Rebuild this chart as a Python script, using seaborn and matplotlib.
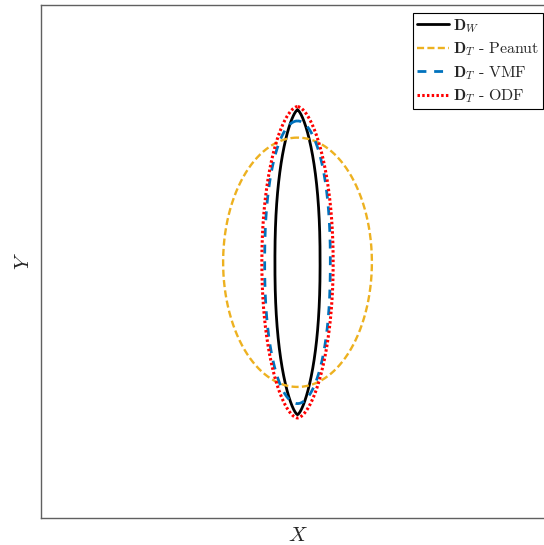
import numpy as np
import pandas as pd
import matplotlib
matplotlib.use("Agg")
import matplotlib.pyplot as plt
import seaborn as sns

sns.set_style("white")
plt.rcParams["mathtext.fontset"] = "cm"
plt.rcParams["font.family"] = ["serif"]

# Glyph outlines: half-width, half-height and the two superellipse exponents
labels = [r"$\mathbf{D}_W$",
          r"$\mathbf{D}_T\ \text{-}\ \mathrm{Peanut}$",
          r"$\mathbf{D}_T\ \text{-}\ \mathrm{VMF}$",
          r"$\mathbf{D}_T\ \text{-}\ \mathrm{ODF}$"]
half_width = [0.088, 0.290, 0.128, 0.139]
half_height = [0.594, 0.486, 0.551, 0.607]
exp_x = [1.45, 2.0, 2.0, 1.7]
exp_y = [2.3, 2.0, 2.25, 2.05]
center_y = -0.003

colors = ["#000000", "#EDB120", "#0072BD", "#FF0000"]
widths = [2.0, 1.7, 2.0, 2.2]
styles = ["-", (0, (3.0, 1.4)), (0, (3.2, 2.8)), (0, (0.8, 0.75))]

t = np.linspace(np.pi / 2, np.pi / 2 + 2 * np.pi, 1441)
frames = []
for lab, a, b, p, q in zip(labels, half_width, half_height, exp_x, exp_y):
    c, s = np.cos(t), np.sin(t)
    x = a * np.sign(c) * np.abs(c) ** (2.0 / p)
    y = center_y + b * np.sign(s) * np.abs(s) ** (2.0 / q)
    frames.append(pd.DataFrame({"x": x, "y": y, "glyph": lab}))
df = pd.concat(frames, ignore_index=True)

fig = plt.figure(figsize=(5.44, 5.45), dpi=100)
ax = fig.add_axes([41 / 544, 27 / 545, 513 / 544, 513 / 545])

for lab, col, lw, ls in zip(labels, colors, widths, styles):
    sub = df[df["glyph"] == lab]
    sns.lineplot(data=sub, x="x", y="y", sort=False, estimator=None,
                 color=col, linewidth=lw, linestyle=ls, label=lab, ax=ax)

ax.set_xlim(-1, 1)
ax.set_ylim(-1, 1)
ax.set_xticks([])
ax.set_yticks([])
ax.set_xlabel(r"$X$", fontsize=15, labelpad=6)
ax.set_ylabel(r"$Y$", fontsize=15, labelpad=6)
for sp in ax.spines.values():
    sp.set_color("#606060")
    sp.set_linewidth(1.0)

leg = ax.legend(loc="upper right", bbox_to_anchor=(543 / 544, 532 / 545),
                bbox_transform=fig.transFigure, borderaxespad=0,
                fontsize=11.5, handlelength=2.0, handletextpad=0.25,
                borderpad=0.25, labelspacing=0.36, fancybox=False,
                framealpha=1, edgecolor="black")
leg.get_frame().set_linewidth(0.8)

fig.savefig("out.png", dpi=100)
